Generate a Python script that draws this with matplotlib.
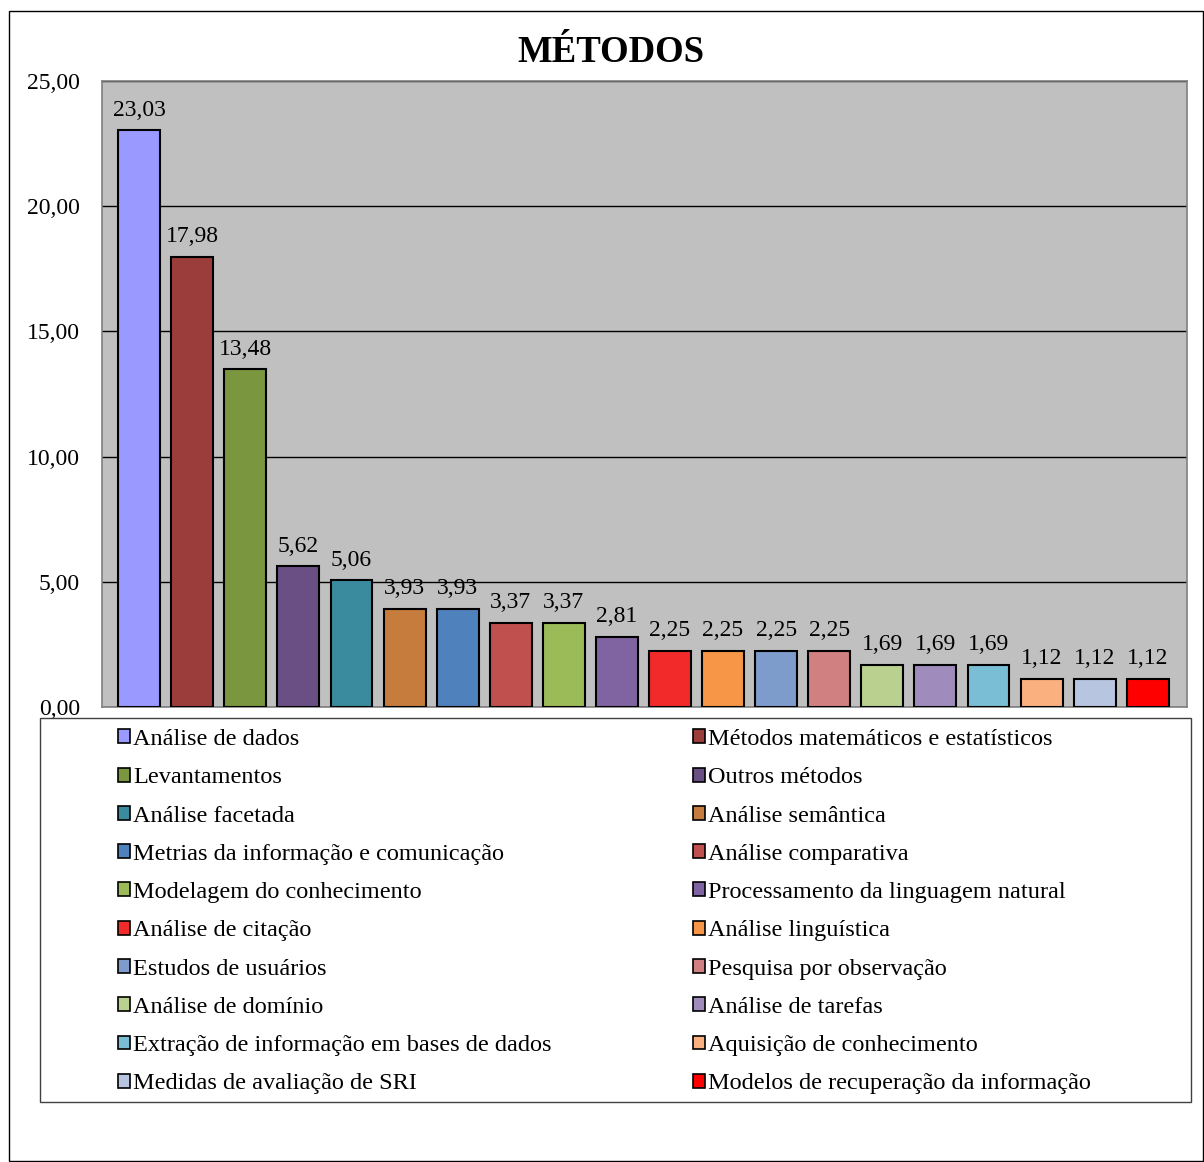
import matplotlib
matplotlib.use("Agg")
import matplotlib.pyplot as plt
from matplotlib.patches import Patch, Rectangle

categories = [
    "Análise de dados", "Métodos matemáticos e estatísticos", "Levantamentos",
    "Outros métodos", "Análise facetada", "Análise semântica",
    "Metrias da informação e comunicação", "Análise comparativa",
    "Modelagem do conhecimento", "Processamento da linguagem natural",
    "Análise de citação", "Análise linguística", "Estudos de usuários",
    "Pesquisa por observação", "Análise de domínio", "Análise de tarefas",
    "Extração de informação em bases de dados", "Aquisição de conhecimento",
    "Medidas de avaliação de SRI", "Modelos de recuperação da informação",
]
values = [23.03, 17.98, 13.48, 5.62, 5.06, 3.93, 3.93, 3.37, 3.37, 2.81,
          2.25, 2.25, 2.25, 2.25, 1.69, 1.69, 1.69, 1.12, 1.12, 1.12]
colors = ["#9999FF", "#9B3E3B", "#7A963E", "#6A4F85", "#3B8B9F", "#C57C3C",
          "#4F81BD", "#C0504D", "#9BBB59", "#8064A2", "#F22A2A", "#F79646",
          "#7E9CCB", "#D08080", "#B9D08F", "#A08BBD", "#79BED5", "#FAB07F",
          "#B8C5E0", "#FF0000"]
yticks = [0, 5, 10, 15, 20, 25]
title = "MÉTODOS"

plt.rcParams["font.family"] = ["Liberation Serif", "DejaVu Serif"]

W, H = 1204, 1162
fig = plt.figure(figsize=(W / 100, H / 100), dpi=100)

def fx(px):
    return px / W

def fy(py):
    return 1 - py / H

# outer border
fig.patches.append(Rectangle((fx(9), fy(1161)), fx(1203) - fx(9), fy(11) - fy(1161),
                             transform=fig.transFigure, fill=False,
                             edgecolor="black", linewidth=1.0))

ax = fig.add_axes([fx(102), fy(707), fx(1187) - fx(102), fy(81) - fy(707)])
ax.set_facecolor("#C0C0C0")
for s in ax.spines.values():
    s.set_color("#808080")
    s.set_linewidth(1.2)

x = list(range(len(values)))
ax.bar(x, values, width=0.79, color=colors, edgecolor="black", linewidth=1.5, zorder=3)
ax.set_xlim(-0.70, len(values) - 0.26)
ax.set_ylim(0, 25)
ax.set_yticks(yticks)
ax.set_yticklabels([f"{t:.2f}".replace(".", ",") for t in yticks], fontsize=17)
ax.tick_params(axis="y", length=0, pad=16)
ax.set_xticks([])
ax.yaxis.grid(True, color="black", linewidth=1.0, zorder=1)
ax.set_axisbelow(True)

for xi, v in zip(x, values):
    ax.annotate(f"{v:.2f}".replace(".", ","), (xi, v), xytext=(0, 7),
                textcoords="offset points", ha="center", va="bottom", fontsize=17)

fig.text(fx(611), fy(53), title, ha="center", va="center", fontsize=26.5, fontweight="bold")

# legend frame
fig.patches.append(Rectangle((fx(40), fy(1102)), fx(1191) - fx(40), 384 / H,
                             transform=fig.transFigure, fill=False,
                             edgecolor="#404040", linewidth=1.0))

handles = [Patch(facecolor=c, edgecolor="black", linewidth=1.2, label=l)
           for c, l in zip(colors, categories)]
order = list(range(0, len(handles), 2)) + list(range(1, len(handles), 2))
leg = fig.legend([handles[i] for i in order], [categories[i] for i in order],
                 ncol=2, loc="upper left", bbox_to_anchor=(fx(118), fy(729)),
                 frameon=False, fontsize=17.5, handlelength=0.5, handleheight=0.5,
                 handletextpad=0.12, labelspacing=0.71, columnspacing=5.8,
                 borderpad=0, borderaxespad=0)

fig.savefig("out.png", dpi=100)
